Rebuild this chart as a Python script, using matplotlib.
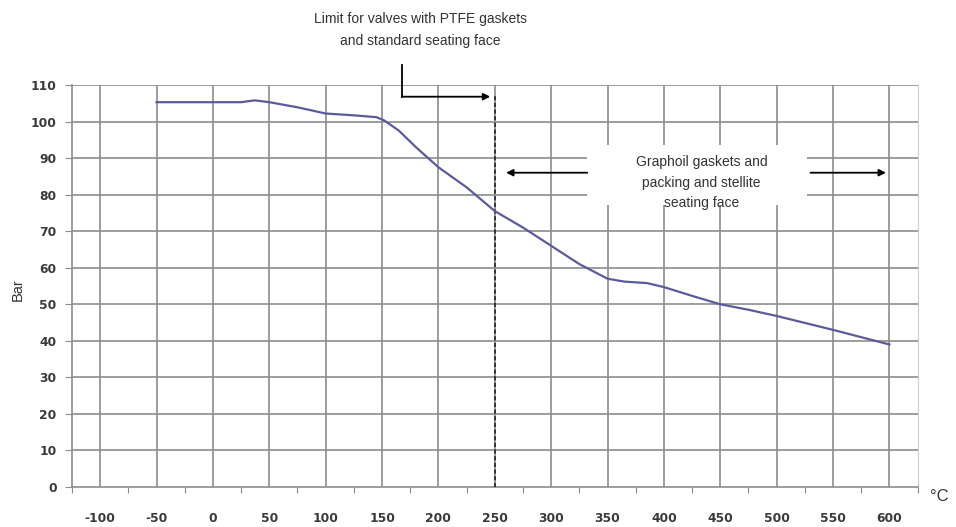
import matplotlib.pyplot as plt
import numpy as np

plt.rcParams['font.family'] = ['Liberation Sans', 'DejaVu Sans']

# data
temps = [-50, 0, 25, 37, 50, 75, 100, 125, 145, 152, 165, 180, 200, 225, 250,
         275, 300, 325, 350, 365, 385, 400, 425, 450, 475, 500, 550, 600]
pressure = [105.3, 105.3, 105.3, 105.8, 105.3, 103.9, 102.2, 101.7, 101.2, 100.3,
            97.5, 93.0, 87.5, 82.0, 75.5, 71.0, 66.0, 61.0, 57.0, 56.2, 55.8,
            54.7, 52.3, 50.0, 48.5, 46.8, 43.0, 39.0]
x_labels = list(range(-100, 601, 50))
y_ticks = list(range(0, 111, 10))
ptfe_limit = 250

fig = plt.figure(figsize=(9.56, 5.27), dpi=100)
ax = fig.add_axes([0.0753, 0.0759, 0.8845, 0.7628])

grid_c = '#8c8c8c'
lab_font = dict(family='DejaVu Sans', fontsize=8.8, fontweight='bold', color='#3a3a3a')
ax.set_xlim(-125, 625)
ax.set_ylim(0, 110)

# category style x axis: ticks at boundaries, labels/grid at centres
ax.set_xticks(np.arange(-125, 626, 50))
ax.set_xticklabels([])
ax.set_xticks(x_labels, minor=True)
ax.set_xticklabels([str(v) for v in x_labels], minor=True, **lab_font)
ax.tick_params(axis='x', which='major', direction='out', length=4, color=grid_c)
ax.tick_params(axis='x', which='minor', length=0, pad=18)
ax.set_yticks(y_ticks)
ax.set_yticklabels([str(v) for v in y_ticks], **lab_font)
ax.tick_params(axis='y', direction='out', length=5, color=grid_c, pad=6)

for v in x_labels:
    ax.axvline(v, color=grid_c, lw=1.2, zorder=1)
for v in y_ticks[1:]:
    ax.axhline(v, color=grid_c, lw=1.2, zorder=1)
for s in ['left', 'bottom']:
    ax.spines[s].set_color(grid_c)
    ax.spines[s].set_linewidth(1.2)
ax.spines['top'].set_visible(False)
ax.spines['right'].set_color('#cccccc')

ax.plot(temps, pressure, color='#5b5b9c', lw=1.6, zorder=4)

# PTFE limit
ax.axvline(ptfe_limit, ymax=107 / 110, color='#222222', lw=1.2, ls=(0, (2.5, 1.5)), zorder=3)
ax.plot([168, 168], [106.8, 115.6], color='black', lw=1.3, clip_on=False, zorder=5)
ax.annotate('', xy=(246, 106.8), xytext=(167.5, 106.8),
            arrowprops=dict(arrowstyle='-|>', color='black', lw=1.3,
                            mutation_scale=10, shrinkA=0, shrinkB=0), zorder=5)
fig.text(0.44, 0.943, 'Limit for valves with PTFE gaskets\nand standard seating face',
         ha='center', va='center', fontsize=10, color='#333333', linespacing=1.7)

# Graphoil range
ax.add_patch(plt.Rectangle((332, 77.3), 195, 16.4, facecolor='white',
                           edgecolor='none', zorder=3))
ax.text(433.5, 83.3, 'Graphoil gaskets and\npacking and stellite\nseating face',
        ha='center', va='center', fontsize=10, color='#333333', linespacing=1.6,
        zorder=6)
ax.annotate('', xy=(260, 86), xytext=(332, 86),
            arrowprops=dict(arrowstyle='-|>', color='black', lw=1.3,
                            mutation_scale=10, shrinkA=0, shrinkB=0), zorder=5)
ax.annotate('', xy=(597, 86), xytext=(530, 86),
            arrowprops=dict(arrowstyle='-|>', color='black', lw=1.3,
                            mutation_scale=10, shrinkA=0, shrinkB=0), zorder=5)

fig.text(0.019, 0.45, 'Bar', rotation=90, ha='center', va='center',
         fontsize=10.5, color='#333333')
fig.text(0.983, 0.057, '°C', ha='center', va='center', fontsize=12, color='#333333')

fig.savefig('out.png', dpi=100, facecolor='white')
